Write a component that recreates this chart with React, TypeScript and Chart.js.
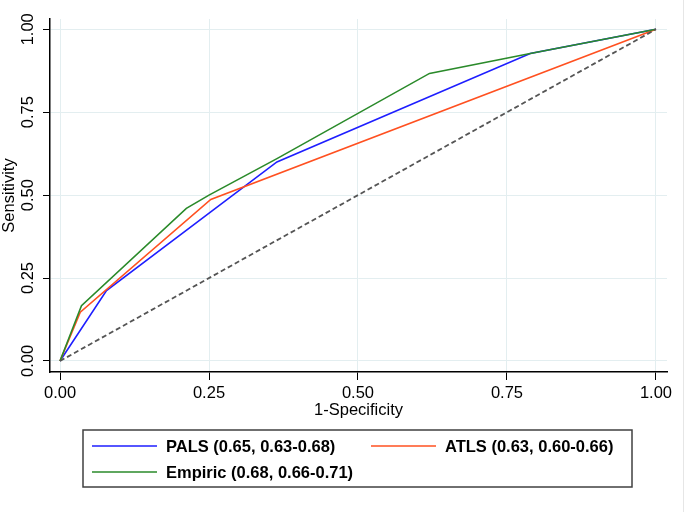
import React, { useEffect, useRef } from "react";
import { Chart, registerables } from "chart.js";

Chart.register(...registerables);

// ROC coordinates (1-specificity, sensitivity) for each scoring system
const palsFpr = [0, 0.078, 0.364, 0.789, 1];
const palsTpr = [0, 0.212, 0.6, 0.927, 1];
const atlsFpr = [0, 0.034, 0.253, 1];
const atlsTpr = [0, 0.147, 0.487, 1];
const empiricFpr = [0, 0.036, 0.212, 0.25, 0.364, 0.62, 0.789, 1];
const empiricTpr = [0, 0.167, 0.46, 0.5, 0.61, 0.867, 0.927, 1];
const referenceFpr = [0, 1];
const referenceTpr = [0, 1];

const seriesLabels = [
  "PALS (0.65, 0.63-0.68)",
  "ATLS (0.63, 0.60-0.66)",
  "Empiric (0.68, 0.66-0.71)",
];
const tickValues = [0, 0.25, 0.5, 0.75, 1];
const tickLabels = ["0.00", "0.25", "0.50", "0.75", "1.00"];

const FONT = "'Liberation Sans', Arial, Helvetica, sans-serif";
const BLUE = "#1e1eff";
const ORANGE = "#ff5020";
const GREEN = "#2a8a2a";
const GRID = "#e3eef0";

const toPoints = (xs: number[], ys: number[]) => xs.map((x, i) => ({ x, y: ys[i] }));

// Boxed two-column legend below the plot, Stata style
const boxedLegend = {
  id: "boxedLegend",
  afterDraw(chart: any) {
    const ctx = chart.ctx as CanvasRenderingContext2D;
    const area = chart.chartArea;
    const left = area.left + 33;
    const right = area.right - 35;
    const top = 430;
    const bottom = 487;
    ctx.save();
    ctx.strokeStyle = "#404040";
    ctx.lineWidth = 1.5;
    ctx.strokeRect(left, top, right - left, bottom - top);

    const entries = chart.data.datasets.filter((d: any) => d.legendShown);
    const colX = [left + 9, left + 288];
    const rowY = [446, 472];
    entries.forEach((d: any, i: number) => {
      const cx = colX[i % 2];
      const cy = rowY[Math.floor(i / 2)];
      ctx.strokeStyle = d.borderColor;
      ctx.lineWidth = 1.5;
      ctx.beginPath();
      ctx.moveTo(cx, cy);
      ctx.lineTo(cx + 65, cy);
      ctx.stroke();
      ctx.fillStyle = "#000";
      ctx.font = `bold 16.5px ${FONT}`;
      ctx.textBaseline = "alphabetic";
      ctx.textAlign = "left";
      ctx.fillText(d.label, cx + 74, cy + 6.3);
    });

    // faint outer graph-region edge
    ctx.strokeStyle = "#e6e6e6";
    ctx.lineWidth = 1;
    ctx.beginPath();
    ctx.moveTo(683.5, 0);
    ctx.lineTo(683.5, chart.height);
    ctx.stroke();
    ctx.restore();
  },
};

export default function App() {
  const canvasRef = useRef<HTMLCanvasElement | null>(null);

  useEffect(() => {
    if (!canvasRef.current) return;
    const lineStyle = { showLine: true, pointRadius: 0, borderWidth: 1.6, fill: false, tension: 0 };
    const chart = new Chart(canvasRef.current, {
      type: "scatter",
      data: {
        datasets: [
          {
            label: seriesLabels[0],
            data: toPoints(palsFpr, palsTpr),
            borderColor: BLUE,
            backgroundColor: BLUE,
            order: 3,
            legendShown: true,
            ...lineStyle,
          } as any,
          {
            label: seriesLabels[1],
            data: toPoints(atlsFpr, atlsTpr),
            borderColor: ORANGE,
            backgroundColor: ORANGE,
            order: 2,
            legendShown: true,
            ...lineStyle,
          } as any,
          {
            label: seriesLabels[2],
            data: toPoints(empiricFpr, empiricTpr),
            borderColor: GREEN,
            backgroundColor: GREEN,
            order: 1,
            legendShown: true,
            ...lineStyle,
          } as any,
          {
            label: "Reference",
            data: toPoints(referenceFpr, referenceTpr),
            borderColor: "#555555",
            backgroundColor: "#555555",
            borderDash: [5, 3],
            order: 0,
            legendShown: false,
            ...lineStyle,
            borderWidth: 1.8,
          } as any,
        ],
      },
      options: {
        animation: false,
        responsive: false,
        events: [],
        layout: { padding: { left: 0, right: 18, top: 19, bottom: 92 } },
        plugins: {
          legend: { display: false },
          tooltip: { enabled: false },
        },
        scales: {
          x: {
            type: "linear",
            min: -0.0168,
            max: 1.0185,
            afterBuildTicks: (scale: any) => {
              scale.ticks = tickValues.map((v) => ({ value: v }));
            },
            afterFit: (scale: any) => {
              scale.height = 48;
            },
            grid: { color: GRID, lineWidth: 1, tickColor: "#000", tickLength: 8, drawTicks: true },
            border: { color: "#000", width: 1.5 },
            ticks: {
              color: "#000",
              font: { family: FONT, size: 16.5 },
              padding: 4,
              maxRotation: 0,
              callback: (_v: any, i: number) => tickLabels[i],
            },
            title: {
              display: true,
              text: "1-Specificity",
              color: "#000",
              font: { family: FONT, size: 16.5 },
              padding: 0,
            },
          },
          y: {
            type: "linear",
            min: -0.0332,
            max: 1.031,
            afterBuildTicks: (scale: any) => {
              scale.ticks = tickValues.map((v) => ({ value: v }));
            },
            afterFit: (scale: any) => {
              scale.width = 50;
            },
            grid: { color: GRID, lineWidth: 1, tickColor: "#000", tickLength: 7, drawTicks: true },
            border: { color: "#000", width: 1.5 },
            ticks: {
              color: "#000",
              font: { family: FONT, size: 16.5 },
              padding: -1.5,
              minRotation: 90,
              maxRotation: 90,
              crossAlign: "center",
              callback: (_v: any, i: number) => tickLabels[i],
            },
            title: {
              display: true,
              text: "Sensitivity",
              color: "#000",
              font: { family: FONT, size: 16.5 },
              padding: 0,
            },
          },
        },
      } as any,
      plugins: [boxedLegend],
    });
    return () => chart.destroy();
  }, []);

  return (
    <div style={{ position: "absolute", left: 0, top: 0, width: 685, height: 512, background: "#fff" }}>
      <canvas ref={canvasRef} width={685} height={512} />
    </div>
  );
}
